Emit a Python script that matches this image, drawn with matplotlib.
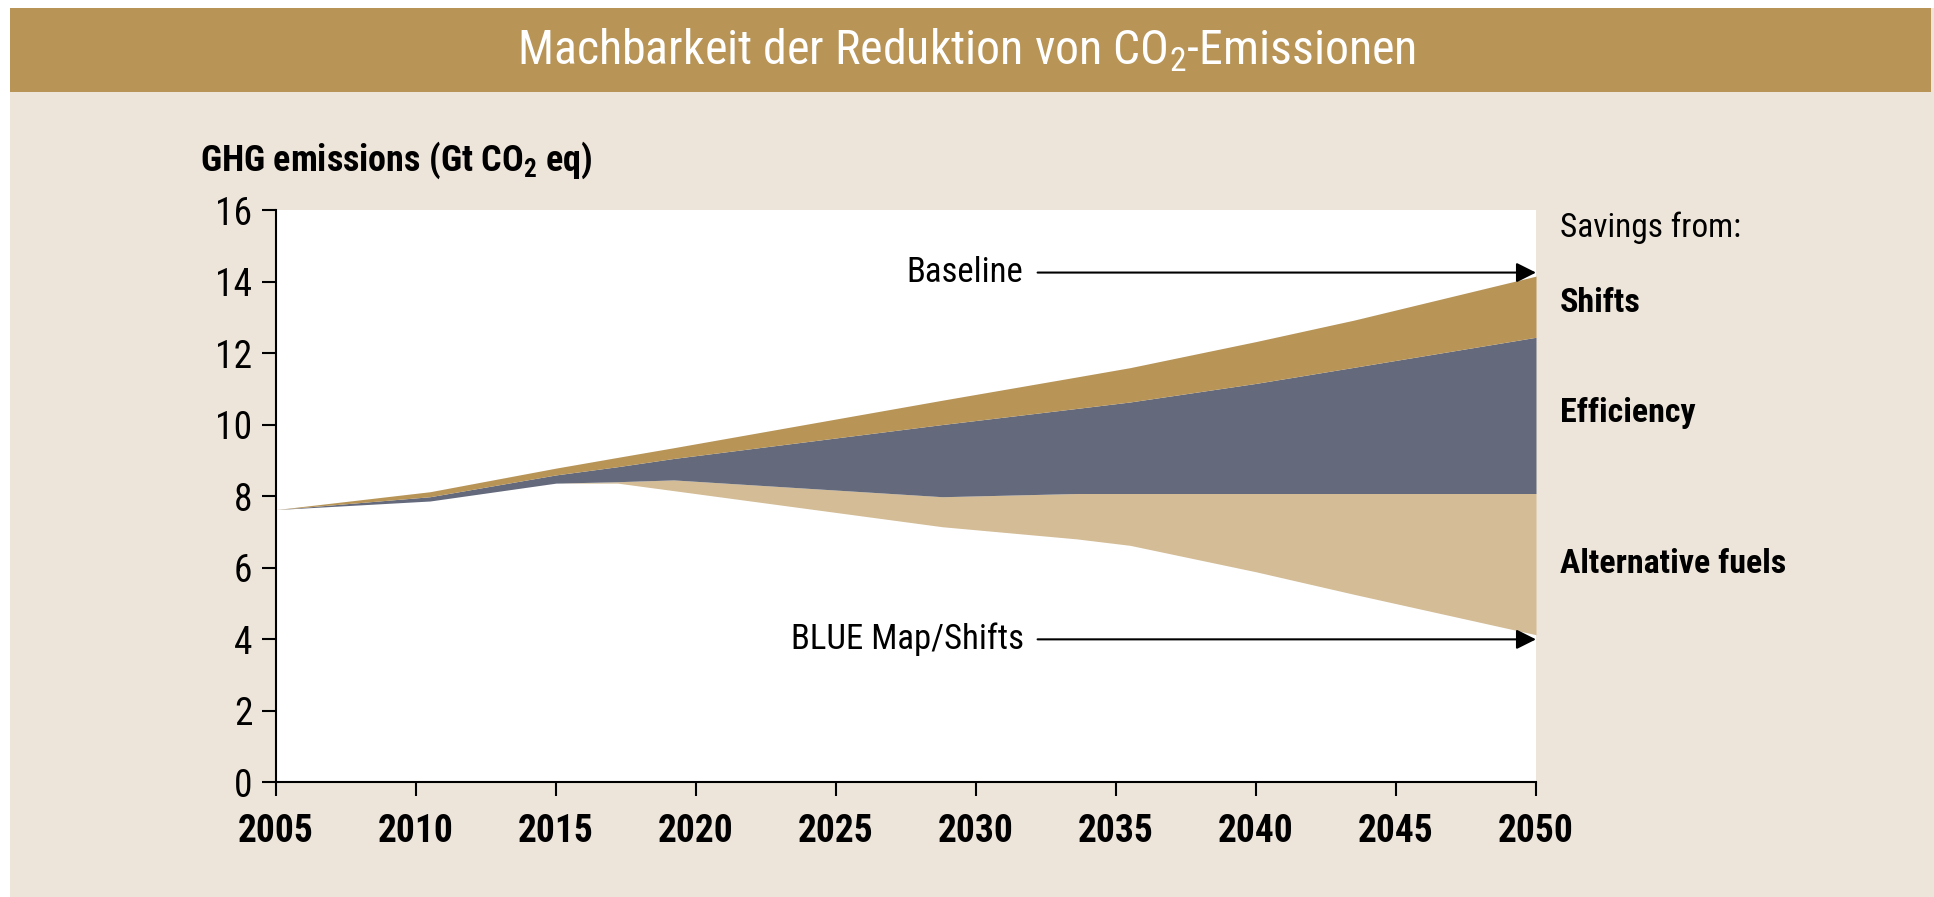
import matplotlib.pyplot as plt
from matplotlib.patches import Rectangle
from matplotlib import font_manager

# years where the outlines bend
years = [2005, 2010.5, 2015, 2017.2, 2019.2, 2028.8, 2033.6, 2035.5, 2040, 2043.5, 2050]

# boundaries of the stacked bands (Gt CO2 eq)
baseline = [7.62, 8.12, 8.78, 9.08, 9.35, 10.68, 11.33, 11.59, 12.32, 12.92, 14.15]
after_shifts = [7.62, 7.98, 8.59, 8.82, 9.05, 10.0, 10.45, 10.63, 11.15, 11.6, 12.44]
after_efficiency = [7.62, 7.86, 8.36, 8.40, 8.45, 7.98, 8.07, 8.07, 8.07, 8.07, 8.07]
blue_map = [7.62, 7.86, 8.36, 8.36, 8.15, 7.14, 6.8, 6.62, 5.88, 5.25, 4.12]

x_ticks = [2005, 2010, 2015, 2020, 2025, 2030, 2035, 2040, 2045, 2050]
y_ticks = [0, 2, 4, 6, 8, 10, 12, 14, 16]

band_labels = ["Shifts", "Efficiency", "Alternative fuels"]

# colours
gold = "#B89557"
slate = "#646A7C"
sand = "#D3BC96"
beige = "#EDE5DA"

names = {f.name for f in font_manager.fontManager.ttflist}
font = "DejaVu Sans"
for cand in ["Roboto Condensed", "PT Sans Narrow", "Liberation Sans Narrow"]:
    if cand in names:
        font = cand
        break
plt.rcParams["font.family"] = [font, "DejaVu Sans"]
plt.rcParams["mathtext.default"] = "regular"

W, H = 1934, 897
fig = plt.figure(figsize=(W / 100, H / 100), dpi=100, facecolor="white")

# beige panel and title bar
fig.patches.append(Rectangle((10 / W, 0), 1 - 10 / W, 1 - 8 / H, transform=fig.transFigure,
                             facecolor=beige, edgecolor="none", zorder=0))
fig.patches.append(Rectangle((10 / W, 1 - 92 / H), 1 - 13 / W, 84 / H, transform=fig.transFigure,
                             facecolor=gold, edgecolor="none", zorder=0))
fig.text(0.5, 1 - 50 / H, "Machbarkeit der Reduktion von CO$_2$-Emissionen",
         ha="center", va="center", color="white", fontsize=34.5)

ax = fig.add_axes([276 / W, 115 / H, 1260 / W, 572 / H])
ax.set_zorder(2)
ax.set_facecolor("white")

ax.fill_between(years, blue_map, after_efficiency, color=sand, linewidth=0)
ax.fill_between(years, after_efficiency, after_shifts, color=slate, linewidth=0)
ax.fill_between(years, after_shifts, baseline, color=gold, linewidth=0)

ax.set_xlim(2005, 2050)
ax.set_ylim(0, 16)
ax.set_xticks(x_ticks)
ax.set_yticks(y_ticks)
ax.set_xticklabels([str(t) for t in x_ticks], fontweight="bold")
ax.tick_params(axis="both", direction="out", length=10, width=1.5, colors="black", labelsize=27)
ax.tick_params(axis="x", pad=12)
ax.tick_params(axis="y", pad=7)
for s in ["top", "right"]:
    ax.spines[s].set_visible(False)
for s in ["left", "bottom"]:
    ax.spines[s].set_linewidth(1.5)

# arrows pointing at the 2050 ends
arrow = dict(arrowstyle="-|>", color="black", lw=1.5, mutation_scale=30, shrinkA=0, shrinkB=0)
ax.annotate("", xy=(2050, 14.25), xytext=(2032.2, 14.25), arrowprops=arrow, annotation_clip=False)
ax.annotate("", xy=(2050, 3.99), xytext=(2032.2, 3.99), arrowprops=arrow, annotation_clip=False)
ax.text(2031.7, 14.25, "Baseline", ha="right", va="center", fontsize=25)
ax.text(2031.7, 3.99, "BLUE Map/Shifts", ha="right", va="center", fontsize=25)

fig.text(200 / W, 1 - 160 / H, "GHG emissions (Gt CO$_2$ eq)", ha="left", va="center",
         fontsize=26, fontweight="bold")

fig.text(1560 / W, 1 - 228 / H, "Savings from:", ha="left", va="center", fontsize=24)
label_y = [303, 413, 564]
for lab, yy in zip(band_labels, label_y):
    fig.text(1560 / W, 1 - yy / H, lab, ha="left", va="center", fontsize=24.5, fontweight="bold")

fig.savefig("out.png", dpi=100, facecolor=fig.get_facecolor())
